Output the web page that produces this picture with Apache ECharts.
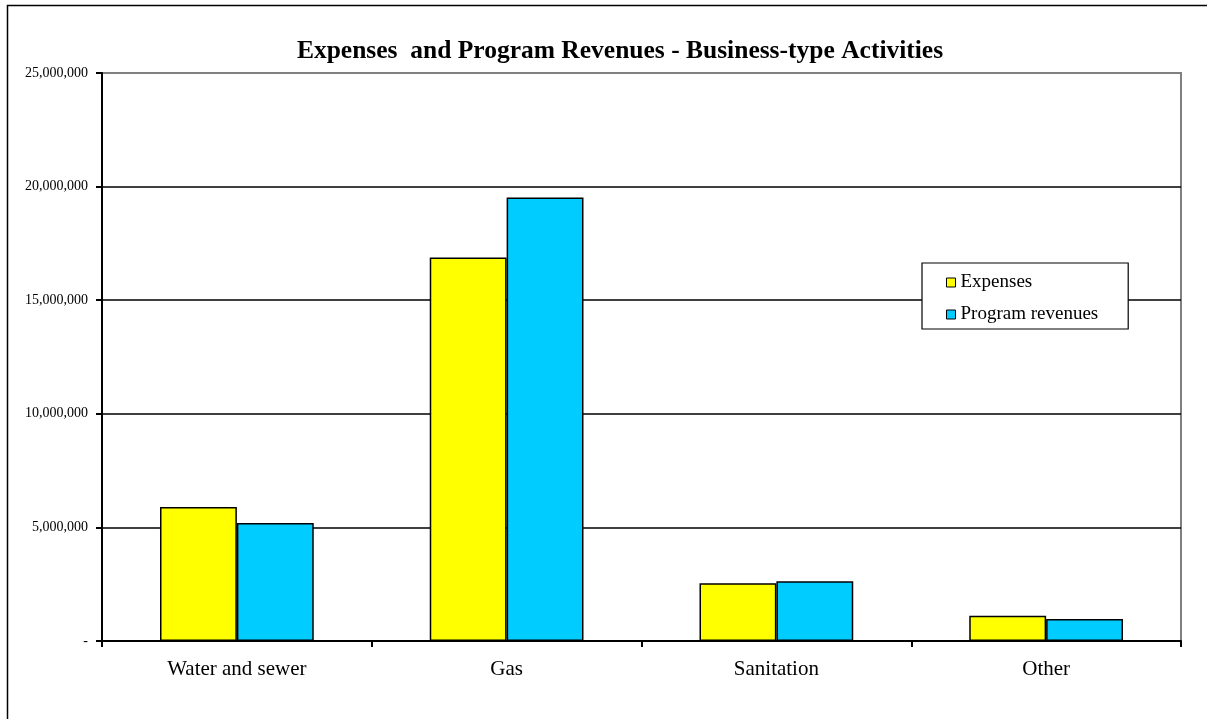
<!DOCTYPE html>
<html>
<head>
<meta charset="utf-8">
<script src="https://cdn.jsdelivr.net/npm/echarts@6/dist/echarts.min.js"></script>
<style>html,body{margin:0;padding:0;background:#fff}#c{width:1207px;height:719px}</style>
</head>
<body>
<div id="c"></div>
<script>
const categories = ['Water and sewer', 'Gas', 'Sanitation', 'Other'];
const expenses = [5900000, 16880000, 2540000, 1110000];
const programRevenues = [5190000, 19520000, 2630000, 970000];
const yTicks = [0, 5000000, 10000000, 15000000, 20000000, 25000000];
const seriesNames = ['Expenses', 'Program revenues'];

const serif = '"Liberation Serif", "Times New Roman", serif';
const chart = echarts.init(document.getElementById('c'), null, {renderer: 'canvas'});
chart.setOption({
  animation: false,
  backgroundColor: '#fff',
  title: {
    text: 'Expenses  and Program Revenues - Business-type Activities',
    left: 615, top: 33, textAlign: 'center',
    textStyle: {fontFamily: serif, fontSize: 25.5, fontWeight: 'bold', color: '#000'}
  },
  graphic: [{
    type: 'rect', left: 5, top: 3, shape: {width: 1230, height: 740},
    style: {fill: 'none', stroke: '#000', lineWidth: 1.5}, silent: true, z: -1
  }],
  legend: {
    orient: 'vertical', left: 922, top: 263,
    data: seriesNames,
    icon: 'rect', itemWidth: 9, itemHeight: 9, itemGap: 13,
    padding: [10, 30, 5, 24],
    borderColor: '#000', borderWidth: 1.2, backgroundColor: '#fff',
    itemStyle: {borderColor: '#000', borderWidth: 1},
    textStyle: {fontFamily: serif, fontSize: 19, color: '#000'}
  },
  grid: {
    left: 102, right: 26, top: 73, bottom: 78,
    show: true, borderColor: '#808080', borderWidth: 2, backgroundColor: 'transparent'
  },
  xAxis: {
    type: 'category', data: categories,
    axisLine: {lineStyle: {color: '#000', width: 2}},
    axisTick: {show: true, length: 6, lineStyle: {color: '#000', width: 2}},
    axisLabel: {fontFamily: serif, fontSize: 21, color: '#000', margin: 18}
  },
  yAxis: {
    type: 'value', min: yTicks[0], max: yTicks[yTicks.length - 1], interval: yTicks[1] - yTicks[0],
    axisLine: {show: true, lineStyle: {color: '#000', width: 2}},
    axisTick: {show: true, length: 6, lineStyle: {color: '#000', width: 2}},
    splitLine: {show: true, showMinLine: false, showMaxLine: false, lineStyle: {color: '#000', width: 1.6}},
    axisLabel: {
      fontFamily: serif, fontSize: 14, color: '#000', margin: 14,
      formatter: v => v === 0 ? '-' : v.toLocaleString('en-US')
    }
  },
  series: [
    {
      name: seriesNames[0], type: 'bar', data: expenses,
      barGap: '0%', barCategoryGap: '43%',
      itemStyle: {color: '#FFFF00', borderColor: '#000', borderWidth: 1.5}
    },
    {
      name: seriesNames[1], type: 'bar', data: programRevenues,
      itemStyle: {color: '#00CCFF', borderColor: '#000', borderWidth: 1.5}
    }
  ]
});
</script>
</body>
</html>
